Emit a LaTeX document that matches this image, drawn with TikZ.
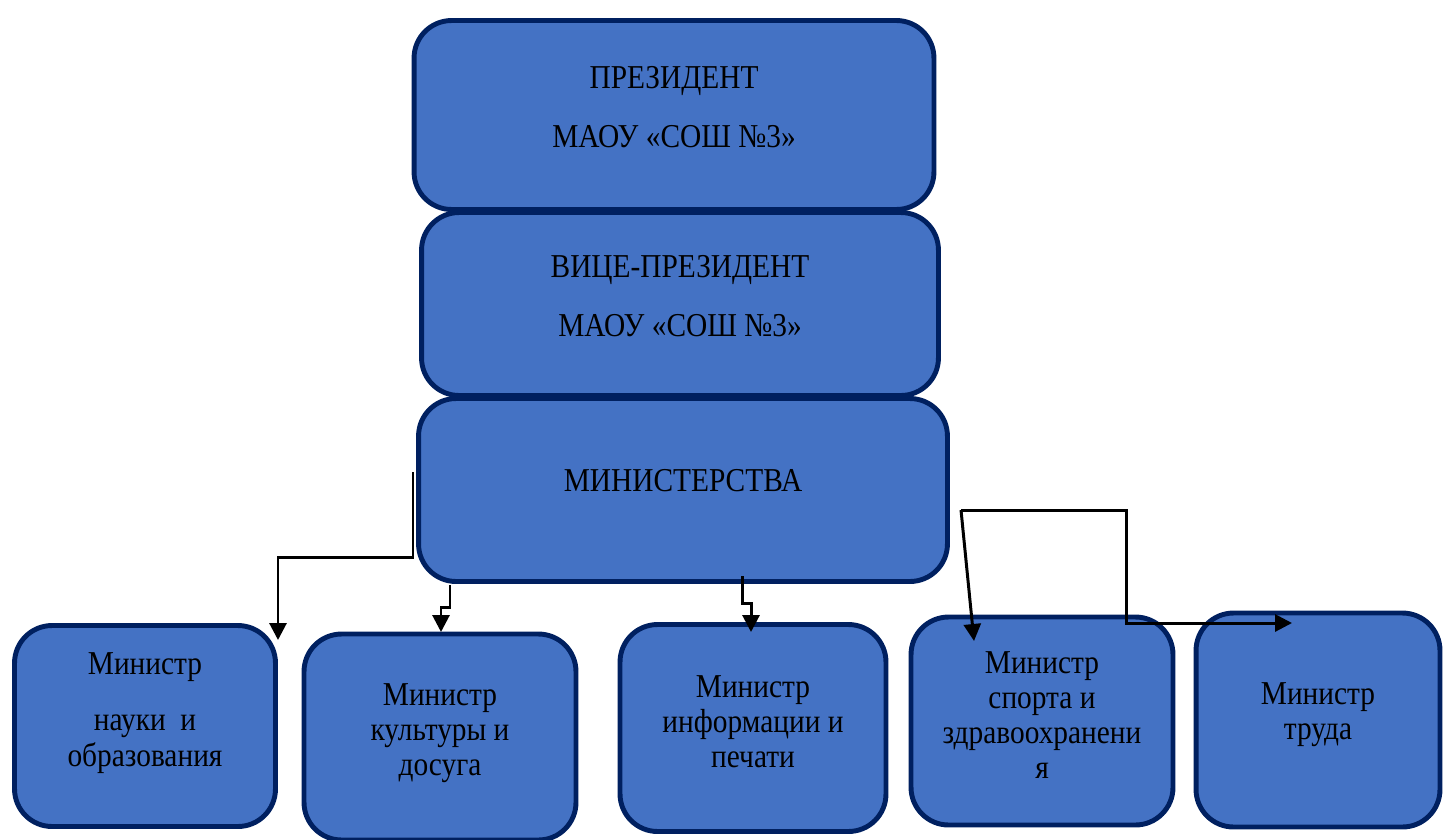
\documentclass[tikz,border=0pt]{standalone}
\usepackage{fontspec}
\setmainfont{Liberation Serif}[FakeStretch=0.88]
\usetikzlibrary{arrows.meta}

\definecolor{boxfill}{HTML}{4472C4}
\definecolor{boxline}{HTML}{002060}

\tikzset{
  box/.style={draw=boxline, fill=boxfill, line width=2.8pt, rounded corners=0.75cm, inner sep=0pt},
  boxtext/.style={align=center, inner sep=0pt, font=\fontsize{19}{20}\selectfont},
  link/.style={line width=1.7pt, -{Triangle[width=0.34cm,length=0.34cm]}}
}

\begin{document}
\begin{tikzpicture}[x=0.02cm,y=-0.02cm]
    \useasboundingbox (0,0) rectangle (1443,839);
    %% Draw the boxes
    \node[box, minimum width=10.4cm, minimum height=3.78cm] (P) at (674,115) {};
    \node[box, minimum width=10.34cm, minimum height=3.66cm] (V) at (680,304) {};
    \node[box, minimum width=10.58cm, minimum height=3.66cm] (M) at (683,490) {};
    \node[box, minimum width=5.22cm, minimum height=4.02cm] (Nauka) at (145,726) {};
    \node[box, minimum width=5.44cm, minimum height=4.12cm] (Kult) at (440,737) {};
    \node[box, minimum width=5.32cm, minimum height=4.14cm] (Info) at (753,728) {};
    \node[box, minimum width=5.24cm, minimum height=4.16cm] (Sport) at (1042,721) {};
    \node[box, minimum width=4.88cm, minimum height=4.28cm] (Trud) at (1318,720) {};
    %% Draw the texts
    \node[boxtext] (Ptext) at (674,107) {ПРЕЗИДЕНТ\\[14pt]МАОУ «СОШ №3»};
    \node[boxtext] (Vtext) at (680,296) {ВИЦЕ-ПРЕЗИДЕНТ\\[14pt]МАОУ «СОШ №3»};
    \node[boxtext] (Mtext) at (683,481) {МИНИСТЕРСТВА};
    \node[boxtext] (Naukatext) at (145,713) {Министр\\[12pt]науки\ \ и\\образования};
    \node[boxtext] (Kulttext) at (440,733) {Министр\\культуры и\\досуга};
    \node[boxtext] (Infotext) at (753,722) {Министр\\информации и\\печати};
    \node[boxtext] (Sporttext) at (1042,715) {Министр\\спорта и\\здравоохранени\\я};
    \node[boxtext] (Trudtext) at (1318,715) {Министр\\труда};
    %% Draw the bend points
    \coordinate (MA) at (413,472);
    \coordinate (MB) at (450,585);
    \coordinate (MC) at (742,576);
    \coordinate (MD) at (961,510);
    \coordinate (NA) at (278,640);
    \coordinate (NB) at (441,632);
    \coordinate (NC) at (751,632);
    \coordinate (ND) at (974,641);
    \coordinate (NE) at (1292,623);
    %% Draw the edges
    \begin{scope}[every path/.style={link}]
      \draw (MA) |- (345,557) -| (NA);
      \draw (MB) -- (450,607) -| (NB);
      \draw (MC) -- (742,603) -| (NC);
      \draw (MD) -| (1126,566) |- (NE);
      \draw (MD) -- (ND);
    \end{scope}
\end{tikzpicture}
\end{document}
